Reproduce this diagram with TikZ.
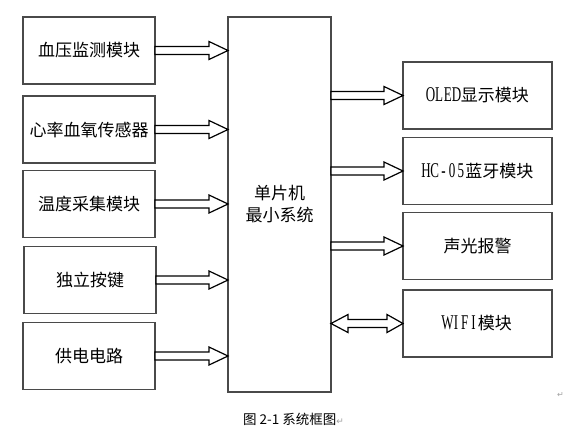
\documentclass[tikz,border=0pt]{standalone}
\usepackage{fontspec}
\usetikzlibrary{calc}
\newfontfamily\cjk{Noto Sans CJK SC}
\newfontfamily\lat[FakeStretch=0.62]{Liberation Serif}
\newfontfamily\djv{DejaVu Sans}
\newcommand{\lc}[1]{\makebox[8.7pt]{#1}}
\newcommand{\latin}[1]{{\lat\fontsize{21}{20}\selectfont #1}}
\definecolor{boxline}{HTML}{4A4A4A}
\definecolor{markgray}{HTML}{A0A0A0}
\tikzset{
  blk/.style={draw=boxline, line width=1.3pt, minimum width=132pt, minimum height=67pt,
    inner sep=0pt, outer sep=0pt, font=\cjk\fontsize{17}{20}\selectfont},
  fat/.style={draw=black, line width=1.2pt, fill=white, line join=miter},
}
\newcommand{\fatR}[3]{% from node #1 to node #2 at height of #3
  \draw[fat] let \p1=(#1), \p2=(#2), \p3=(#3) in
    (\x1,\y3+4pt) -- (\x2-19pt,\y3+4pt) -- (\x2-19pt,\y3+9pt) -- (\x2,\y3)
    -- (\x2-19pt,\y3-9pt) -- (\x2-19pt,\y3-4pt) -- (\x1,\y3-4pt) -- cycle;}
\newcommand{\fatD}[3]{% double arrow
  \draw[fat] let \p1=(#1), \p2=(#2), \p3=(#3) in
    (\x1,\y3) -- (\x1+17pt,\y3+9pt) -- (\x1+17pt,\y3+4pt) -- (\x2-16pt,\y3+4pt)
    -- (\x2-16pt,\y3+9pt) -- (\x2,\y3) -- (\x2-16pt,\y3-9pt) -- (\x2-16pt,\y3-4pt)
    -- (\x1+17pt,\y3-4pt) -- (\x1+17pt,\y3-9pt) -- cycle;}
\begin{document}
\begin{tikzpicture}[x=1pt,y=-1pt]
\useasboundingbox (0,0) rectangle (564,429);
% left boxes
\node[blk] (bp)  at (89,50.5)  {血压监测模块};
\node[blk] (hr)  at (89,129.5) {心率血氧传感器};
\node[blk] (tmp) at (89,204)   {温度采集模块};
\node[blk] (key) at (90,280)   {独立按键};
\node[blk] (pwr) at (89,356)   {供电电路};
% MCU
\node[draw=boxline, line width=1.3pt, minimum width=103pt, minimum height=375pt,
  inner sep=0pt, outer sep=0pt] (mcu) at (279.5,204.5) {};
\node[font=\cjk\fontsize{17}{22}\selectfont, align=center] (mcut) at (279.5,204) {单片机\\最小系统};
% right boxes
\node[blk, minimum width=149pt] (oled) at (477.5,95.5) {\latin{\lc{O}\lc{L}\lc{E}\lc{D}}显示模块};
\node[blk, minimum width=149pt] (bt)   at (477.5,171)  {\latin{\lc{H}\lc{C}\lc{-}\lc{0}\lc{5}}蓝牙模块};
\node[blk, minimum width=149pt] (alm)  at (477.5,246)  {声光报警};
\node[blk, minimum width=149pt] (wifi) at (477.5,323.5){\latin{\lc{W}\lc{I}\lc{F}\lc{I}}模块};
% arrows
\fatR{bp.east}{mcu.west}{bp.east}
\fatR{hr.east}{mcu.west}{hr.east}
\fatR{tmp.east}{mcu.west}{tmp.east}
\fatR{key.east}{mcu.west}{key.east}
\fatR{pwr.east}{mcu.west}{pwr.east}
\fatR{mcu.east}{oled.west}{oled.west}
\fatR{mcu.east}{bt.west}{bt.west}
\fatR{mcu.east}{alm.west}{alm.west}
\fatD{mcu.east}{wifi.west}{wifi.west}
% caption
\node[anchor=west, inner sep=0pt, font=\cjk\fontsize{13.5}{15}\selectfont] (cap) at (243,419)
  {图 2-1 系统框图{\djv\fontsize{9}{10}\selectfont\color{markgray}↵}};
\node[anchor=west, inner sep=0pt, font=\djv\fontsize{8}{9}\selectfont, text=markgray] (mark) at (557,395) {↵};
\end{tikzpicture}
\end{document}
